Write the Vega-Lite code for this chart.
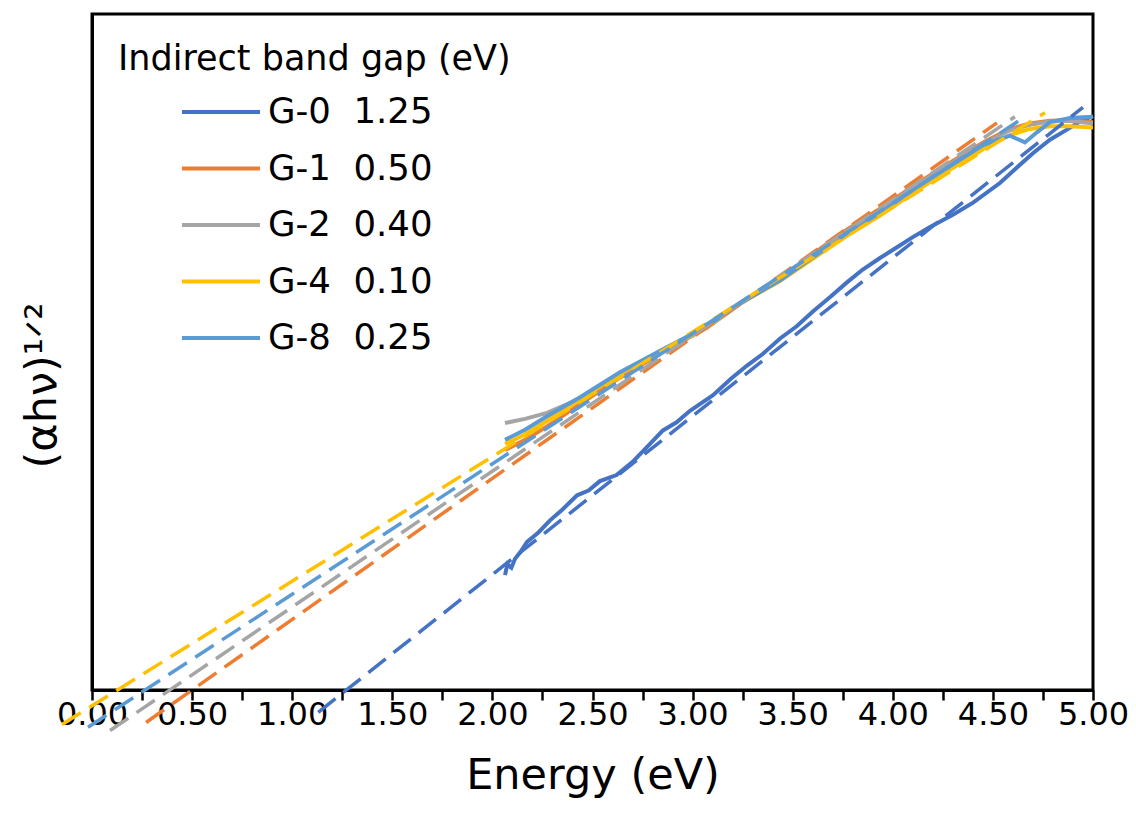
{
  "$schema": "https://vega.github.io/schema/vega-lite/v6.json",
  "width": 1001,
  "height": 676,
  "autosize": {"type": "none"},
  "padding": {"left": 92, "top": 14, "right": 43, "bottom": 133},
  "background": "white",
  "config": {
    "font": "DejaVu Sans",
    "view": {"stroke": "black", "strokeWidth": 3},
    "axis": {"grid": false}
  },
  "datasets": {
    "curves": [
      {"entry": "G-0\u00a0\u00a01.25", "x": 2.063, "y": 17.0},
      {"entry": "G-0\u00a0\u00a01.25", "x": 2.075, "y": 18.6},
      {"entry": "G-0\u00a0\u00a01.25", "x": 2.095, "y": 18.1},
      {"entry": "G-0\u00a0\u00a01.25", "x": 2.113, "y": 19.4},
      {"entry": "G-0\u00a0\u00a01.25", "x": 2.140, "y": 20.4},
      {"entry": "G-0\u00a0\u00a01.25", "x": 2.173, "y": 21.9},
      {"entry": "G-0\u00a0\u00a01.25", "x": 2.230, "y": 23.3},
      {"entry": "G-0\u00a0\u00a01.25", "x": 2.288, "y": 25.1},
      {"entry": "G-0\u00a0\u00a01.25", "x": 2.350, "y": 26.7},
      {"entry": "G-0\u00a0\u00a01.25", "x": 2.423, "y": 28.8},
      {"entry": "G-0\u00a0\u00a01.25", "x": 2.480, "y": 29.5},
      {"entry": "G-0\u00a0\u00a01.25", "x": 2.537, "y": 30.9},
      {"entry": "G-0\u00a0\u00a01.25", "x": 2.620, "y": 31.8},
      {"entry": "G-0\u00a0\u00a01.25", "x": 2.702, "y": 33.8},
      {"entry": "G-0\u00a0\u00a01.25", "x": 2.780, "y": 36.2},
      {"entry": "G-0\u00a0\u00a01.25", "x": 2.852, "y": 38.4},
      {"entry": "G-0\u00a0\u00a01.25", "x": 2.920, "y": 39.6},
      {"entry": "G-0\u00a0\u00a01.25", "x": 2.987, "y": 41.3},
      {"entry": "G-0\u00a0\u00a01.25", "x": 3.102, "y": 43.6},
      {"entry": "G-0\u00a0\u00a01.25", "x": 3.190, "y": 46.0},
      {"entry": "G-0\u00a0\u00a01.25", "x": 3.272, "y": 48.0},
      {"entry": "G-0\u00a0\u00a01.25", "x": 3.350, "y": 49.7},
      {"entry": "G-0\u00a0\u00a01.25", "x": 3.437, "y": 52.0},
      {"entry": "G-0\u00a0\u00a01.25", "x": 3.520, "y": 53.8},
      {"entry": "G-0\u00a0\u00a01.25", "x": 3.601, "y": 56.0},
      {"entry": "G-0\u00a0\u00a01.25", "x": 3.690, "y": 58.2},
      {"entry": "G-0\u00a0\u00a01.25", "x": 3.771, "y": 60.3},
      {"entry": "G-0\u00a0\u00a01.25", "x": 3.850, "y": 62.2},
      {"entry": "G-0\u00a0\u00a01.25", "x": 3.936, "y": 63.9},
      {"entry": "G-0\u00a0\u00a01.25", "x": 4.021, "y": 65.5},
      {"entry": "G-0\u00a0\u00a01.25", "x": 4.100, "y": 67.0},
      {"entry": "G-0\u00a0\u00a01.25", "x": 4.186, "y": 68.5},
      {"entry": "G-0\u00a0\u00a01.25", "x": 4.300, "y": 70.3},
      {"entry": "G-0\u00a0\u00a01.25", "x": 4.401, "y": 72.1},
      {"entry": "G-0\u00a0\u00a01.25", "x": 4.535, "y": 75.0},
      {"entry": "G-0\u00a0\u00a01.25", "x": 4.620, "y": 77.3},
      {"entry": "G-0\u00a0\u00a01.25", "x": 4.700, "y": 79.4},
      {"entry": "G-0\u00a0\u00a01.25", "x": 4.785, "y": 81.4},
      {"entry": "G-0\u00a0\u00a01.25", "x": 4.870, "y": 82.9},
      {"entry": "G-0\u00a0\u00a01.25", "x": 4.935, "y": 84.1},
      {"entry": "G-0\u00a0\u00a01.25", "x": 5.000, "y": 84.9},

      {"entry": "G-1\u00a0\u00a00.50", "x": 2.063, "y": 35.5},
      {"entry": "G-1\u00a0\u00a00.50", "x": 2.163, "y": 37.0},
      {"entry": "G-1\u00a0\u00a00.50", "x": 2.273, "y": 39.0},
      {"entry": "G-1\u00a0\u00a00.50", "x": 2.438, "y": 42.3},
      {"entry": "G-1\u00a0\u00a00.50", "x": 2.637, "y": 46.2},
      {"entry": "G-1\u00a0\u00a00.50", "x": 2.852, "y": 50.0},
      {"entry": "G-1\u00a0\u00a00.50", "x": 3.072, "y": 53.6},
      {"entry": "G-1\u00a0\u00a00.50", "x": 3.237, "y": 57.2},
      {"entry": "G-1\u00a0\u00a00.50", "x": 3.437, "y": 60.9},
      {"entry": "G-1\u00a0\u00a00.50", "x": 3.601, "y": 64.5},
      {"entry": "G-1\u00a0\u00a00.50", "x": 3.771, "y": 68.1},
      {"entry": "G-1\u00a0\u00a00.50", "x": 3.936, "y": 71.2},
      {"entry": "G-1\u00a0\u00a00.50", "x": 4.121, "y": 74.9},
      {"entry": "G-1\u00a0\u00a00.50", "x": 4.286, "y": 78.0},
      {"entry": "G-1\u00a0\u00a00.50", "x": 4.451, "y": 81.0},
      {"entry": "G-1\u00a0\u00a00.50", "x": 4.585, "y": 83.0},
      {"entry": "G-1\u00a0\u00a00.50", "x": 4.685, "y": 83.8},
      {"entry": "G-1\u00a0\u00a00.50", "x": 4.785, "y": 84.2},
      {"entry": "G-1\u00a0\u00a00.50", "x": 4.885, "y": 84.3},
      {"entry": "G-1\u00a0\u00a00.50", "x": 5.000, "y": 84.0},

      {"entry": "G-2\u00a0\u00a00.40", "x": 2.063, "y": 39.5},
      {"entry": "G-2\u00a0\u00a00.40", "x": 2.163, "y": 40.1},
      {"entry": "G-2\u00a0\u00a00.40", "x": 2.273, "y": 41.0},
      {"entry": "G-2\u00a0\u00a00.40", "x": 2.438, "y": 43.1},
      {"entry": "G-2\u00a0\u00a00.40", "x": 2.637, "y": 46.7},
      {"entry": "G-2\u00a0\u00a00.40", "x": 2.852, "y": 50.1},
      {"entry": "G-2\u00a0\u00a00.40", "x": 3.072, "y": 53.6},
      {"entry": "G-2\u00a0\u00a00.40", "x": 3.237, "y": 57.1},
      {"entry": "G-2\u00a0\u00a00.40", "x": 3.437, "y": 60.8},
      {"entry": "G-2\u00a0\u00a00.40", "x": 3.601, "y": 64.3},
      {"entry": "G-2\u00a0\u00a00.40", "x": 3.771, "y": 67.9},
      {"entry": "G-2\u00a0\u00a00.40", "x": 3.936, "y": 70.9},
      {"entry": "G-2\u00a0\u00a00.40", "x": 4.121, "y": 74.7},
      {"entry": "G-2\u00a0\u00a00.40", "x": 4.286, "y": 77.8},
      {"entry": "G-2\u00a0\u00a00.40", "x": 4.451, "y": 80.8},
      {"entry": "G-2\u00a0\u00a00.40", "x": 4.585, "y": 82.8},
      {"entry": "G-2\u00a0\u00a00.40", "x": 4.685, "y": 83.6},
      {"entry": "G-2\u00a0\u00a00.40", "x": 4.785, "y": 84.1},
      {"entry": "G-2\u00a0\u00a00.40", "x": 4.885, "y": 84.2},
      {"entry": "G-2\u00a0\u00a00.40", "x": 5.000, "y": 83.8},

      {"entry": "G-4\u00a0\u00a00.10", "x": 2.063, "y": 36.4},
      {"entry": "G-4\u00a0\u00a00.10", "x": 2.163, "y": 37.8},
      {"entry": "G-4\u00a0\u00a00.10", "x": 2.273, "y": 39.8},
      {"entry": "G-4\u00a0\u00a00.10", "x": 2.438, "y": 43.0},
      {"entry": "G-4\u00a0\u00a00.10", "x": 2.637, "y": 46.8},
      {"entry": "G-4\u00a0\u00a00.10", "x": 2.852, "y": 50.3},
      {"entry": "G-4\u00a0\u00a00.10", "x": 3.072, "y": 53.7},
      {"entry": "G-4\u00a0\u00a00.10", "x": 3.237, "y": 57.2},
      {"entry": "G-4\u00a0\u00a00.10", "x": 3.437, "y": 60.5},
      {"entry": "G-4\u00a0\u00a00.10", "x": 3.601, "y": 63.8},
      {"entry": "G-4\u00a0\u00a00.10", "x": 3.771, "y": 67.2},
      {"entry": "G-4\u00a0\u00a00.10", "x": 3.936, "y": 70.2},
      {"entry": "G-4\u00a0\u00a00.10", "x": 4.121, "y": 73.9},
      {"entry": "G-4\u00a0\u00a00.10", "x": 4.286, "y": 77.0},
      {"entry": "G-4\u00a0\u00a00.10", "x": 4.451, "y": 80.0},
      {"entry": "G-4\u00a0\u00a00.10", "x": 4.585, "y": 82.1},
      {"entry": "G-4\u00a0\u00a00.10", "x": 4.685, "y": 83.0},
      {"entry": "G-4\u00a0\u00a00.10", "x": 4.785, "y": 83.4},
      {"entry": "G-4\u00a0\u00a00.10", "x": 4.885, "y": 83.4},
      {"entry": "G-4\u00a0\u00a00.10", "x": 5.000, "y": 83.2},

      {"entry": "G-8\u00a0\u00a00.25", "x": 2.063, "y": 37.0},
      {"entry": "G-8\u00a0\u00a00.25", "x": 2.163, "y": 38.5},
      {"entry": "G-8\u00a0\u00a00.25", "x": 2.273, "y": 40.5},
      {"entry": "G-8\u00a0\u00a00.25", "x": 2.438, "y": 43.3},
      {"entry": "G-8\u00a0\u00a00.25", "x": 2.637, "y": 47.0},
      {"entry": "G-8\u00a0\u00a00.25", "x": 2.852, "y": 50.4},
      {"entry": "G-8\u00a0\u00a00.25", "x": 3.072, "y": 53.8},
      {"entry": "G-8\u00a0\u00a00.25", "x": 3.237, "y": 57.2},
      {"entry": "G-8\u00a0\u00a00.25", "x": 3.437, "y": 60.6},
      {"entry": "G-8\u00a0\u00a00.25", "x": 3.601, "y": 64.0},
      {"entry": "G-8\u00a0\u00a00.25", "x": 3.771, "y": 67.6},
      {"entry": "G-8\u00a0\u00a00.25", "x": 3.936, "y": 70.6},
      {"entry": "G-8\u00a0\u00a00.25", "x": 4.121, "y": 74.4},
      {"entry": "G-8\u00a0\u00a00.25", "x": 4.286, "y": 77.5},
      {"entry": "G-8\u00a0\u00a00.25", "x": 4.451, "y": 80.6},
      {"entry": "G-8\u00a0\u00a00.25", "x": 4.585, "y": 82.0},
      {"entry": "G-8\u00a0\u00a00.25", "x": 4.660, "y": 81.0},
      {"entry": "G-8\u00a0\u00a00.25", "x": 4.720, "y": 82.5},
      {"entry": "G-8\u00a0\u00a00.25", "x": 4.785, "y": 84.0},
      {"entry": "G-8\u00a0\u00a00.25", "x": 4.885, "y": 84.6},
      {"entry": "G-8\u00a0\u00a00.25", "x": 5.000, "y": 84.8}
    ],
    "fits": [
      {"entry": "G-0\u00a0\u00a01.25", "x": 1.13, "y": -3.3},
      {"entry": "G-0\u00a0\u00a01.25", "x": 4.95, "y": 86.2},
      {"entry": "G-1\u00a0\u00a00.50", "x": 0.27, "y": -4.8},
      {"entry": "G-1\u00a0\u00a00.50", "x": 4.52, "y": 83.9},
      {"entry": "G-2\u00a0\u00a00.40", "x": 0.09, "y": -6.0},
      {"entry": "G-2\u00a0\u00a00.40", "x": 4.61, "y": 84.8},
      {"entry": "G-4\u00a0\u00a00.10", "x": -0.15, "y": -5.1},
      {"entry": "G-4\u00a0\u00a00.10", "x": 4.76, "y": 85.4},
      {"entry": "G-8\u00a0\u00a00.25", "x": -0.02, "y": -5.5},
      {"entry": "G-8\u00a0\u00a00.25", "x": 4.635, "y": 84.3}
    ]
  },
  "layer": [
    {
      "data": {"name": "curves"},
      "mark": {"type": "line", "strokeWidth": 4, "clip": false},
      "encoding": {
        "x": {
          "field": "x",
          "type": "quantitative",
          "scale": {"domain": [0, 5], "nice": false, "zero": false},
          "axis": {
            "title": "Energy (eV)",
            "titleFontSize": 43,
            "titleFontWeight": "normal",
            "titleColor": "black",
            "titlePadding": 24,
            "values": [0, 0.25, 0.5, 0.75, 1, 1.25, 1.5, 1.75, 2, 2.25, 2.5, 2.75, 3, 3.25, 3.5, 3.75, 4, 4.25, 4.5, 4.75, 5],
            "labelExpr": "(round(datum.value*100) % 50 == 0) ? format(datum.value, '.2f') : ''",
            "labelFontSize": 32,
            "labelColor": "black",
            "labelPadding": -1,
            "labelFlush": false,
            "labelOverlap": false,
            "tickSize": 10,
            "tickWidth": 2.5,
            "tickColor": "black",
            "domainColor": "black",
            "domainWidth": 3
          }
        },
        "y": {
          "field": "y",
          "type": "quantitative",
          "scale": {"domain": [0, 100], "nice": false},
          "axis": {
            "title": "(αhν)¹ᐟ²",
            "titleFontSize": 43,
            "titleFontWeight": "normal",
            "titleColor": "black",
            "titlePadding": 28,
            "titleY": 371,
            "labels": false,
            "ticks": false,
            "domainColor": "black",
            "domainWidth": 3
          }
        },
        "color": {
          "field": "entry",
          "type": "nominal",
          "scale": {
            "domain": ["G-0\u00a0\u00a01.25", "G-1\u00a0\u00a00.50", "G-2\u00a0\u00a00.40", "G-4\u00a0\u00a00.10", "G-8\u00a0\u00a00.25"],
            "range": ["#4472C4", "#ED7D31", "#A5A5A5", "#FFC000", "#5B9BD5"]
          },
          "legend": {
            "orient": "none",
            "legendX": 26,
            "legendY": 28,
            "padding": 0,
            "title": "Indirect band gap (eV)",
            "titleFontSize": 35,
            "titleFontWeight": "normal",
            "titleColor": "black",
            "titlePadding": 8,
            "titleLimit": 1000,
            "labelFontSize": 35.5,
            "labelColor": "black",
            "labelLimit": 1000,
            "symbolType": "M-1.56,0H1.56",
            "symbolSize": 2500,
            "symbolStrokeWidth": 4,
            "symbolOffset": 76,
            "labelOffset": 20,
            "rowPadding": 10.5
          }
        }
      }
    },
    {
      "data": {"name": "fits"},
      "mark": {"type": "line", "strokeWidth": 3.5, "strokeDash": [22, 10], "clip": false},
      "encoding": {
        "x": {"field": "x", "type": "quantitative"},
        "y": {"field": "y", "type": "quantitative"},
        "color": {"field": "entry", "type": "nominal", "legend": null}
      }
    }
  ]
}
